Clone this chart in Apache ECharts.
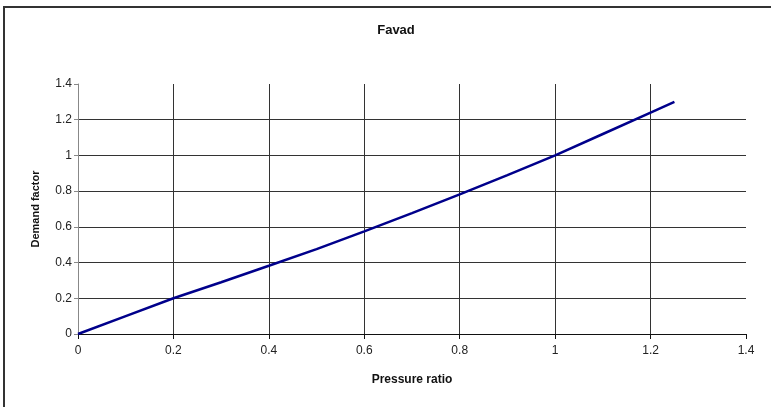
<!DOCTYPE html>
<html>
<head>
<meta charset="utf-8">
<script src="https://cdn.jsdelivr.net/npm/echarts@6/dist/echarts.min.js"></script>
<style>
  html, body { margin: 0; padding: 0; background: #fff; }
  #chart { width: 771px; height: 407px; }
</style>
</head>
<body>
<div id="chart"></div>
<script>
// Favad demand curve: demand factor against pressure ratio
const titleText = 'Favad';
const xName = 'Pressure ratio';
const yName = 'Demand factor';
const pressureRatio = [0, 0.1, 0.2, 0.3, 0.4, 0.5, 0.6, 0.7, 0.8, 0.9, 1.0, 1.1, 1.2, 1.25];
const demandFactor  = [0, 0.1, 0.2, 0.29, 0.382, 0.475, 0.575, 0.677, 0.782, 0.89, 1.0, 1.12, 1.24, 1.30];

const labelFont = '"Liberation Sans Narrow", "Liberation Sans", Arial, sans-serif';
const chart = echarts.init(document.getElementById('chart'), null, { renderer: 'canvas' });

chart.setOption({
  backgroundColor: '#ffffff',
  animation: false,
  graphic: [{
    type: 'rect',
    shape: { x: 4, y: 7, width: 900, height: 600 },
    style: { fill: 'none', stroke: '#333333', lineWidth: 2 },
    silent: true
  }],
  title: {
    text: titleText,
    left: 391,
    top: 19,
    textAlign: 'center',
    textStyle: { fontFamily: labelFont, fontSize: 13, fontWeight: 'bold', color: '#111' }
  },
  grid: { left: 78, right: 25, top: 84, bottom: 73 },
  xAxis: {
    type: 'value',
    min: 0, max: 1.4, interval: 0.2,
    name: xName,
    nameLocation: 'middle',
    nameGap: 40,
    nameTextStyle: { fontFamily: labelFont, fontSize: 12, fontWeight: 'bold', color: '#111' },
    axisLine: { show: true, lineStyle: { color: '#111', width: 1 } },
    axisTick: { show: true, length: 5, lineStyle: { color: '#111' } },
    axisLabel: { fontFamily: labelFont, fontSize: 12, color: '#222', margin: 11 },
    splitLine: { show: true, showMaxLine: false, lineStyle: { color: '#333', width: 1 } }
  },
  yAxis: {
    type: 'value',
    min: 0, max: 1.4, interval: 0.2,
    name: yName,
    nameLocation: 'middle',
    nameGap: 37,
    nameTextStyle: { fontFamily: '"Liberation Sans", Arial, sans-serif', fontSize: 11, fontWeight: 'bold', color: '#111' },
    axisLine: { show: true, lineStyle: { color: '#888', width: 1 } },
    axisTick: { show: true, length: 4, lineStyle: { color: '#888' } },
    axisLabel: { fontFamily: labelFont, fontSize: 12, color: '#222', margin: 6 },
    splitLine: { show: true, showMaxLine: false, lineStyle: { color: '#333', width: 1 } }
  },
  series: [{
    type: 'line',
    data: pressureRatio.map((p, i) => [p, demandFactor[i]]),
    showSymbol: false,
    symbol: 'none',
    lineStyle: { color: '#00008b', width: 2.5 },
    z: 5
  }]
});
</script>
</body>
</html>
